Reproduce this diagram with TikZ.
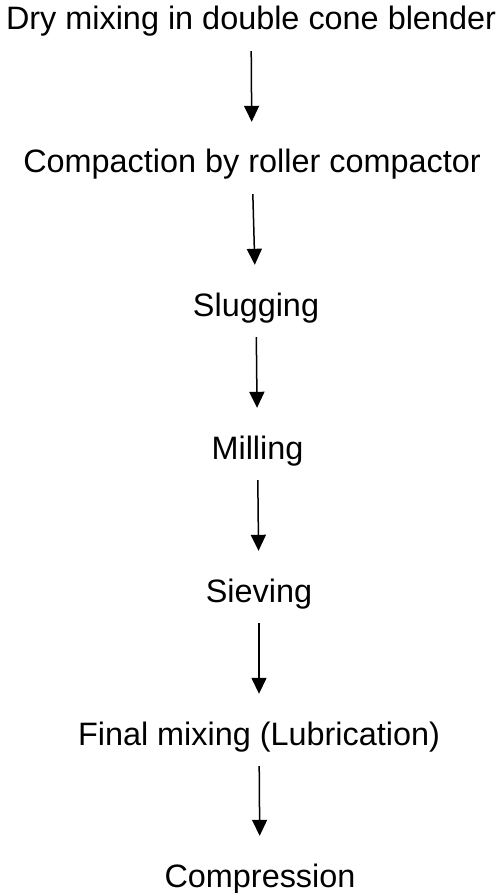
\documentclass[tikz,border=0pt]{standalone}
\usepackage{fontspec}
\setmainfont{Liberation Sans}
\usepackage{tikz}
\usetikzlibrary{arrows.meta, positioning}

\begin{document}
\begin{tikzpicture}[x=0.5pt,y=-0.5pt,
    fase/.style={inner sep=0pt,anchor=base,text height=11.6pt,text depth=3.4pt,font=\fontsize{16.2pt}{18pt}\selectfont},
    freccia/.style={-{Triangle[length=8pt,width=7.5pt]},line width=0.75pt,shorten <=7pt,shorten >=13.8pt}]
    \useasboundingbox (0,0) rectangle (501,893);

    % Fasi del processo
    \node[fase] (mix) at (251,30) {Dry mixing in double cone blender};
    \node[fase] (comp) at (252,173) {Compaction by roller compactor};
    \node[fase] (slug) at (256,316) {Slugging};
    \node[fase] (mill) at (257.5,459) {Milling};
    \node[fase] (siev) at (259,602) {Sieving};
    \node[fase] (lub) at (259,745) {Final mixing (Lubrication)};
    \node[fase] (press) at (260,887) {Compression};

    % Frecce
    \draw[freccia] (mix) -- (comp);
    \draw[freccia] (comp) -- (slug);
    \draw[freccia] (slug) -- (mill);
    \draw[freccia] (mill) -- (siev);
    \draw[freccia] (siev) -- (lub);
    \draw[freccia] (lub) -- (press);
\end{tikzpicture}
\end{document}
